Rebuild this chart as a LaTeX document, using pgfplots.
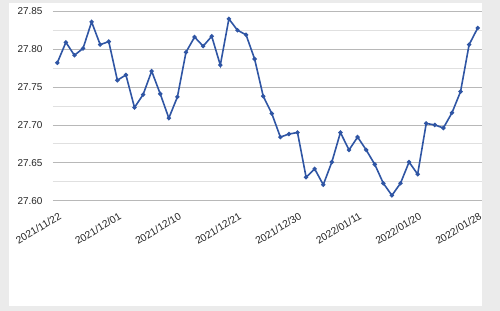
\documentclass[border=0pt]{standalone}
\usepackage{fontspec}
\setmainfont{Liberation Sans}
\usepackage{pgfplots}
\pgfplotsset{compat=1.18}
\definecolor{lineblue}{HTML}{2F55A4}
\definecolor{bggray}{HTML}{EBEBEB}
\begin{document}
\begin{tikzpicture}
\fill[bggray] (-53bp,-110.3bp) rectangle (447bp,200.7bp);
\fill[white] (-44bp,-105.3bp) rectangle (429bp,197.7bp);
\begin{axis}[
  scale only axis,
  width=429bp, height=189.4bp,
  xmin=-0.5, xmax=49.5,
  ymin=27.60, ymax=27.85,
  axis line style={draw=none},
  major tick length=0pt, minor tick length=0pt,
  ytick={27.60,27.65,27.70,27.75,27.80,27.85},
  minor y tick num=1,
  ymajorgrids, yminorgrids,
  major grid style={draw=black!28, line width=0.8pt},
  minor grid style={draw=black!12, line width=0.8pt},
  xtick={0,7,14,21,28,35,42,49},
  xticklabels={2021/11/22,2021/12/01,2021/12/10,2021/12/21,2021/12/30,2022/01/11,2022/01/20,2022/01/28},
  xticklabel style={rotate=31, anchor=north east, font=\fontsize{10.3}{12}\selectfont, text=black!85, inner sep=1pt, yshift=-9bp, xshift=-4bp},
  yticklabel style={font=\fontsize{10}{12}\selectfont, text=black!85, xshift=-7bp},
  /pgf/number format/assume math mode=true,
  y tick label style={/pgf/number format/.cd, fixed, fixed zerofill, precision=2},
  clip=false,
]
\addplot[lineblue, line width=1.6pt, mark=*, mark size=1.3pt, mark options={fill=lineblue, draw=lineblue}] coordinates {
(0,27.782) (1,27.809) (2,27.792) (3,27.801) (4,27.836) (5,27.806) (6,27.810) (7,27.759) (8,27.766) (9,27.723)
(10,27.740) (11,27.771) (12,27.741) (13,27.709) (14,27.737) (15,27.796) (16,27.816) (17,27.804) (18,27.817) (19,27.779)
(20,27.840) (21,27.825) (22,27.819) (23,27.787) (24,27.738) (25,27.715) (26,27.684) (27,27.688) (28,27.690) (29,27.631)
(30,27.642) (31,27.621) (32,27.651) (33,27.690) (34,27.667) (35,27.684) (36,27.667) (37,27.648) (38,27.623) (39,27.607)
(40,27.623) (41,27.651) (42,27.635) (43,27.702) (44,27.700) (45,27.696) (46,27.716) (47,27.744) (48,27.806) (49,27.828)
};
\end{axis}
\pgfresetboundingbox
\path[use as bounding box] (-53bp,-110.3bp) rectangle (447bp,200.7bp);
\end{tikzpicture}
\end{document}
